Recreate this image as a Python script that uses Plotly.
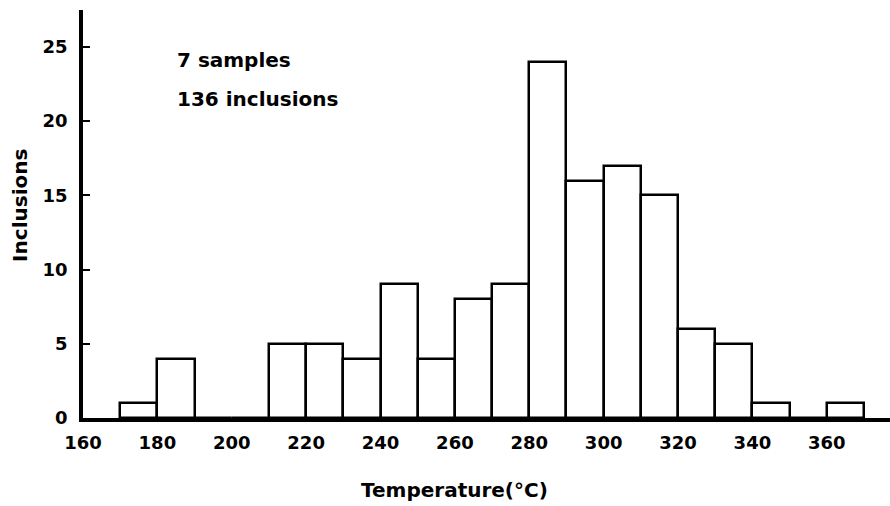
import plotly.graph_objects as go

# Histogram bins (lower edges, °C) and counts
bin_left = [170, 180, 190, 200, 210, 220, 230, 240, 250, 260, 270,
            280, 290, 300, 310, 320, 330, 340, 350, 360]
counts = [1, 4, 0, 0, 5, 5, 4, 9, 4, 8, 9,
          24, 16, 17, 15, 6, 5, 1, 0, 1]
bin_width = 10

x_ticks = [160, 180, 200, 220, 240, 260, 280, 300, 320, 340, 360]
y_ticks = [0, 5, 10, 15, 20, 25]

FONT = dict(family="DejaVu Sans", size=18, color="black", weight="bold")
BIG = dict(family="DejaVu Sans", size=20, color="black", weight="bold")

fig = go.Figure()
fig.add_trace(go.Bar(
    x=[b + bin_width / 2 for b in bin_left],
    y=counts,
    width=bin_width,
    marker=dict(color="white", line=dict(color="black", width=2.5)),
    showlegend=False,
    hoverinfo="x+y",
))

fig.update_layout(
    width=890, height=506,
    margin=dict(l=83, r=0, t=10, b=88),
    plot_bgcolor="white", paper_bgcolor="white",
    font=FONT,
    bargap=0,
    xaxis=dict(
        range=[160, 377], tickvals=x_ticks, ticktext=[str(v) for v in x_ticks],
        showline=True, linecolor="black", linewidth=3.5,
        showgrid=False, zeroline=False, ticks="", ticklabelstandoff=6,
        tickfont=FONT,
    ),
    yaxis=dict(
        range=[0, 27.49], tickvals=y_ticks,
        showline=True, linecolor="black", linewidth=3.5,
        showgrid=False, zeroline=False, ticks="inside", ticklen=7,
        tickwidth=2, tickcolor="black", ticklabelstandoff=8,
        tickfont=FONT,
    ),
    annotations=[
        dict(text="7 samples", x=184.8, y=24.1, xref="x", yref="y",
             xanchor="left", yanchor="middle", showarrow=False, font=BIG),
        dict(text="136 inclusions", x=184.8, y=21.5, xref="x", yref="y",
             xanchor="left", yanchor="middle", showarrow=False, font=BIG),
        dict(text="Temperature(°C)", x=0.46, y=-0.177, xref="paper", yref="paper",
             xanchor="center", yanchor="middle", showarrow=False, font=BIG),
        dict(text="Inclusions", x=-0.078, y=0.52, xref="paper", yref="paper",
             xanchor="center", yanchor="middle", textangle=-90,
             showarrow=False, font=BIG),
    ],
)

fig.write_html(
    "out.html",
    config={"displayModeBar": False},
    post_script="document.body.style.margin='0';document.body.style.overflow='hidden';",
)
